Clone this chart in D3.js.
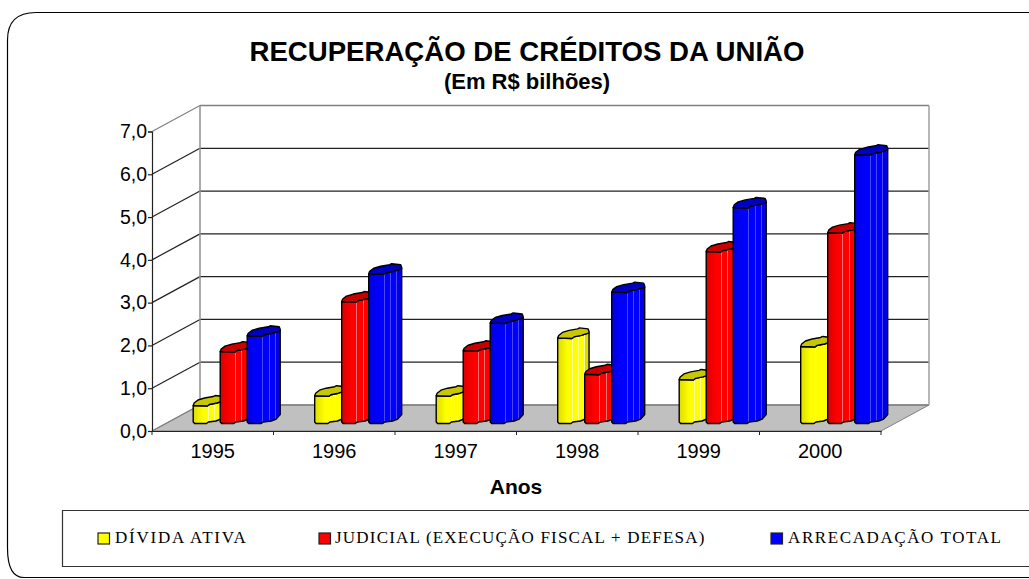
<!DOCTYPE html>
<html><head><meta charset="utf-8">
<style>html,body{margin:0;padding:0;background:#fff;overflow:hidden}svg{display:block}</style>
<script src="https://cdn.jsdelivr.net/npm/d3@7/dist/d3.min.js"></script>
</head><body><svg id="c" width="1029" height="579"></svg>
<script>
const years = ["1995","1996","1997","1998","1999","2000"];
const divida = [0.42,0.65,0.65,2.0,1.03,1.8];
const judicial = [1.68,2.85,1.7,1.15,4.02,4.46];
const arrecadacao = [2.05,3.5,2.35,3.07,5.05,6.28];
const yTicks = [0,1,2,3,4,5,6,7];
const seriesNames = ["DÍVIDA ATIVA","JUDICIAL (EXECUÇÃO FISCAL + DEFESA)","ARRECADAÇÃO TOTAL"];
const seriesColors = [["#ffff00","#dcdc00","#c8c800","#ffffa0"],["#ff0000","#dc0000","#c80000","#ff7070"],["#0000ff","#0000e0","#0000c0","#4848ff"]];

const svg = d3.select("#c");
const SANS = "'Liberation Sans',Arial,sans-serif", SERIF = "'Liberation Serif','Times New Roman',serif";
const dx = 48, dy = -26;
const x = d3.scaleBand().domain(years).range([152,881]);
const y = d3.scaleLinear().domain([0,7]).range([431,131.5]);
const baseLift = 7.5;

// outer frame
svg.append("path").attr("fill","none").attr("stroke","#000").attr("stroke-width",1.2)
  .attr("d","M1029.5,12.5H36Q7.5,12.5 7.5,40V548Q7.5,577.5 24,577.5H1029.5");

// titles
svg.append("text").attr("x",527).attr("y",61).attr("text-anchor","middle").attr("font-family",SANS).attr("font-weight","bold").attr("font-size",27.6).text("RECUPERAÇÃO DE CRÉDITOS DA UNIÃO");
svg.append("text").attr("x",527).attr("y",89).attr("text-anchor","middle").attr("font-family",SANS).attr("font-weight","bold").attr("font-size",22).text("(Em R$ bilhões)");

// walls and floor
svg.append("path").attr("fill","#c0c0c0").attr("stroke","#808080").attr("stroke-width",1)
  .attr("d",`M${x.range()[0]},${y(0)}L${x.range()[1]},${y(0)}L${x.range()[1]+dx},${y(0)+dy}L${x.range()[0]+dx},${y(0)+dy}Z`);
const grid = svg.append("g");
yTicks.forEach(t=>{
  const yy=y(t);
  const edge = t===7 || t===0;
  grid.append("line").attr("x1",152).attr("y1",yy).attr("x2",152+dx).attr("y2",yy+dy).attr("stroke",edge?"#808080":"#222").attr("stroke-width",1.2);
  grid.append("line").attr("x1",152+dx).attr("y1",yy+dy).attr("x2",881+dx).attr("y2",yy+dy).attr("stroke",edge?"#808080":"#222").attr("stroke-width",1.3);
});
grid.append("line").attr("x1",200).attr("y1",y(7)+dy).attr("x2",200).attr("y2",y(0)+dy).attr("stroke","#909090").attr("stroke-width",1.5);
grid.append("line").attr("x1",929).attr("y1",y(7)+dy).attr("x2",929).attr("y2",y(0)+dy).attr("stroke","#a0a0a0").attr("stroke-width",1.5);

// axes
const yAxis = d3.axisLeft(y).tickValues(yTicks).tickSize(4).tickPadding(1).tickFormat(d=>d3.format(".1f")(d).replace(".",","));
const gy = svg.append("g").attr("transform","translate(152,0)").call(yAxis);
gy.selectAll("text").attr("font-family",SANS).attr("font-size",19.5).attr("fill","#000");
gy.selectAll("line,path").attr("stroke","#222").attr("stroke-width",1.2);
const xAxis = d3.axisBottom(x).tickSize(0).tickPadding(13);
const gx = svg.append("g").attr("transform",`translate(0,${y(0)})`).call(xAxis);
gx.select("path").attr("stroke","#222").attr("stroke-width",1.2);
gx.selectAll("text").attr("font-family",SANS).attr("font-size",20).attr("fill","#000");
d3.range(7).forEach(i=>{
  const px = x.range()[0]+i*x.step();
  gx.append("line").attr("x1",px).attr("x2",px).attr("y1",0).attr("y2",4).attr("stroke","#222");
});
svg.append("text").attr("x",516).attr("y",494).attr("text-anchor","middle").attr("font-family",SANS).attr("font-weight","bold").attr("font-size",21).text("Anos");

// gradients
const defs = svg.append("defs");
seriesColors.forEach((c,i)=>{
  const g = defs.append("linearGradient").attr("id","g"+i).attr("x1",0).attr("x2",1).attr("y1",0).attr("y2",0);
  const stops = [[0,c[1]],[.32,c[0]],[.46,c[0]],[.46,c[3]],[.49,c[3]],[.49,c[0]],[.66,c[0]],[.66,c[3]],[.69,c[3]],[.69,c[0]],[.84,c[0]],[.84,c[3]],[.87,c[3]],[.87,c[1]],[1,c[1]]];
  stops.forEach(s=>g.append("stop").attr("offset",s[0]).attr("stop-color",s[1]));
});

// bars: scalloped prism outline, relative to the bar's lower-left front corner
const line = d3.line();
const front = [[0,-1.5],[1.5,0],[14,0],[16,-1.5],[24,-2.5],[29,-4.5],[33,-9]];
const topBack = [[33,-6.5],[32,-9],[23,-10],[21,-9],[12,-7.5],[5,-5.5],[1,-2.5],[0,0]];
const topFront = [[0,0],[15,0.5],[17,-1],[25,-2.5],[33,-5]];
const seriesVals = [divida,judicial,arrecadacao];
const offset = 41.2, gap = 27;
seriesVals.forEach((vals,s)=>{
  const g = svg.append("g");
  const w = s===2?1:(s===1?0.97:0.95);
  vals.forEach((v,i)=>{
    const left = x(years[i])+offset+s*gap;
    const yb = y(0)-baseLift, yt = y(v)-baseLift;
    const sx = p=>left+p[0]*w;
    const body = [...topFront.map(p=>[sx(p),yt+p[1]]), ...front.slice().reverse().map(p=>[sx(p),yb+p[1]])];
    g.append("path").attr("d",line(body)+"Z").attr("fill",`url(#g${s})`).attr("stroke","#000").attr("stroke-width",1.4).attr("stroke-linejoin","round");
    const top = [...topFront.map(p=>[sx(p),yt+p[1]]), ...topBack.map(p=>[sx(p),yt+p[1]])];
    g.append("path").attr("d",line(top)+"Z").attr("fill",seriesColors[s][2]).attr("stroke","#000").attr("stroke-width",1.4).attr("stroke-linejoin","round");
  });
});

// legend
svg.append("path").attr("d","M1029.5,510.5H62.5V566.5H1029.5").attr("fill","none").attr("stroke","#333").attr("stroke-width",1.2);
const legX = [98,319,771], legT=[115,335,788], legS=[1.75,1.2,1.6];
seriesNames.forEach((n,i)=>{
  svg.append("rect").attr("x",legX[i]).attr("y",533).attr("width",11.5).attr("height",11).attr("fill",seriesColors[i][0]).attr("stroke","#222").attr("stroke-width",1.2);
  svg.append("text").attr("x",legT[i]).attr("y",543).attr("font-family",SERIF).attr("font-size",17).attr("letter-spacing",legS[i]).attr("fill","#000").text(n);
});
</script></body></html>
